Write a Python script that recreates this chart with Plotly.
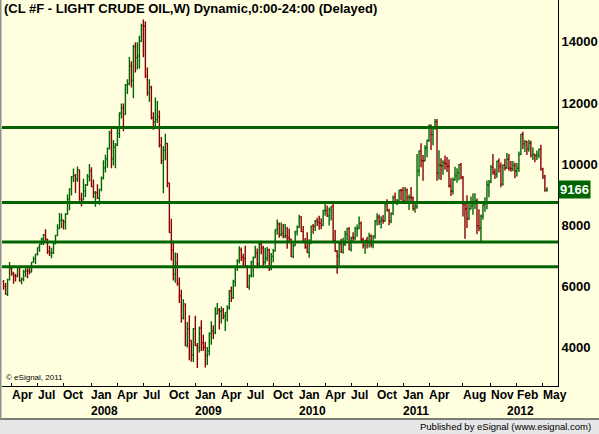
import pandas as pd
import plotly.graph_objects as go

FONT = "Liberation Sans, Arial, sans-serif"
GREEN = "#006400"
RED = "#8b0000"
BG = "#ffffe0"

# weekly bars (Monday of each week), prices in dollars per barrel
first_week = "2007-03-05"

opens = [
    # 2007
    61.6, 60.1, 57.6, 62.3, 65.9, 64.3, 63.6, 63.4, 66.5, 61.9, 62.4, 64.9, 65.2, 65.1, 64.8,
    68.0, 69.1, 70.7, 72.8, 73.9, 75.6, 77.0, 75.5, 71.5, 71.0, 71.1, 74.0, 76.7, 79.1, 81.6,
    81.7, 81.2, 83.7, 88.6, 91.9, 95.9, 96.3, 95.1, 98.2, 88.7, 88.3, 91.3, 93.3, 96.0,
    # 2008
    97.9, 92.7, 90.6, 90.7, 88.9, 91.8, 95.5, 98.8, 101.8, 105.2, 110.2, 101.8, 105.6, 106.2,
    110.1, 116.7, 118.5, 116.3, 125.9, 126.3, 132.2, 127.4, 138.5, 134.9, 135.4, 140.2, 145.3,
    145.1, 128.9, 123.3, 125.1, 115.2, 113.8, 114.6, 115.5, 106.2, 101.2, 104.6, 106.9, 93.9,
    77.7, 71.9, 64.2, 67.8, 61.0, 57.0, 49.9, 54.4, 40.8, 46.3, 42.4, 37.7,
    # 2009
    46.3, 40.8, 40.0, 46.5, 41.7, 40.2, 37.5, 38.9, 44.8, 45.5, 44.9, 51.1, 52.4, 52.0, 52.2,
    50.3, 51.6, 53.2, 58.6, 56.3, 61.7, 66.3, 68.4, 72.0, 69.6, 69.2, 66.7, 59.9, 63.6, 68.1,
    69.5, 70.9, 67.5, 73.9, 72.7, 68.0, 69.3, 72.0, 66.0, 69.9, 71.8, 78.7, 80.5, 77.0, 77.4,
    76.4, 76.7, 76.1, 75.5, 69.9, 73.4, 78.0,
    # 2010
    79.4, 82.8, 78.0, 74.5, 72.9, 71.2, 74.1, 79.8, 79.7, 81.5, 81.2, 80.7, 80.0, 84.9, 84.9,
    83.2, 85.1, 86.2, 75.1, 71.6, 70.0, 74.0, 71.5, 73.8, 77.2, 79.0, 72.1, 76.1, 76.0, 78.9,
    79.0, 80.7, 75.4, 73.5, 75.2, 74.6, 76.5, 73.7, 76.5, 81.6, 82.7, 81.3, 81.7, 81.4, 87.0,
    84.9, 81.5, 83.8, 89.2, 87.8, 88.0, 91.5,
    # 2011
    91.4, 88.0, 91.5, 89.1, 89.3, 89.0, 85.6, 86.2, 97.9, 104.4, 101.2, 101.1, 105.4, 107.9,
    112.8, 109.7, 112.3, 113.9, 97.2, 99.7, 99.5, 100.6, 100.2, 99.3, 93.0, 91.2, 95.0, 96.2,
    97.2, 99.9, 95.7, 86.9, 85.4, 82.3, 85.4, 86.5, 87.2, 88.0, 79.9, 79.2, 83.0, 86.8, 87.4,
    93.3, 94.3, 99.0, 97.4, 96.8, 101.0, 99.4, 93.5, 99.7,
    # 2012
    98.8, 101.6, 98.7, 98.5, 99.6, 97.8, 98.7, 103.2, 109.8, 106.7, 107.4, 105.1, 106.9, 103.0,
    103.3, 102.8, 103.1, 104.9, 98.5, 96.1, 91.5,
]

highs = [
    # 2007
    62.2, 61.2, 62.6, 68.1, 66.7, 64.9, 64.2, 66.8, 66.8, 63.0, 65.5, 66.0, 66.0, 66.7, 68.1,
    69.9, 70.7, 72.8, 74.0, 76.0, 77.2, 78.8, 75.7, 73.4, 72.7, 74.6, 77.0, 80.4, 84.1, 83.9,
    82.0, 84.1, 90.1, 92.2, 96.2, 98.6, 96.8, 99.3, 98.2, 90.7, 95.3, 93.6, 96.8, 100.1,
    # 2008
    99.0, 95.0, 91.3, 93.5, 92.0, 96.0, 101.3, 103.1, 105.5, 111.0, 111.8, 107.9, 107.0, 112.2,
    117.0, 119.9, 119.9, 126.2, 127.8, 135.1, 133.7, 139.1, 139.9, 139.9, 142.0, 145.9, 147.3,
    146.7, 131.6, 127.8, 125.7, 117.0, 121.8, 120.7, 117.6, 108.9, 106.0, 110.0, 107.0, 94.0,
    82.2, 75.0, 71.2, 71.0, 63.0, 59.0, 55.9, 54.5, 48.5, 50.7, 42.5, 46.5,
    # 2009
    50.5, 41.6, 47.0, 49.0, 44.3, 42.0, 40.3, 45.0, 48.7, 47.4, 53.3, 54.7, 53.0, 53.5, 53.0,
    51.6, 53.9, 58.9, 60.1, 62.3, 66.5, 69.0, 73.2, 72.8, 70.8, 73.4, 67.0, 64.0, 68.5, 69.9,
    73.4, 72.5, 74.3, 75.0, 73.4, 72.7, 73.0, 72.4, 71.0, 72.3, 78.7, 82.0, 81.0, 81.0, 80.5,
    80.5, 79.5, 79.0, 75.7, 74.3, 78.3, 80.0,
    # 2010
    83.5, 83.0, 79.8, 75.9, 77.8, 75.5, 80.0, 80.5, 81.8, 82.5, 83.2, 82.4, 85.1, 87.1, 86.5,
    85.9, 86.4, 87.2, 78.5, 72.0, 74.7, 75.7, 76.0, 78.3, 79.3, 79.4, 76.3, 77.8, 79.6, 80.3,
    82.9, 81.3, 76.0, 75.3, 76.3, 77.6, 77.1, 76.8, 81.8, 84.0, 83.6, 83.0, 83.4, 87.2, 88.6,
    85.5, 84.3, 89.8, 90.8, 88.7, 91.6, 92.0,
    # 2011
    92.6, 92.6, 92.1, 90.1, 92.6, 89.5, 87.1, 103.4, 104.5, 106.9, 103.0, 106.2, 108.1, 113.0,
    113.0, 112.5, 114.8, 114.8, 104.6, 102.0, 101.3, 102.9, 102.4, 101.6, 95.5, 95.7, 99.2,
    98.7, 100.1, 100.4, 96.2, 87.0, 89.9, 88.0, 89.5, 90.5, 90.5, 88.8, 85.3, 83.6, 86.9, 89.2,
    94.7, 94.9, 99.8, 103.4, 98.6, 101.2, 101.9, 100.6, 99.9, 101.8,
    # 2012
    103.7, 103.4, 101.1, 101.1, 100.5, 100.4, 104.2, 109.9, 110.6, 107.9, 107.7, 108.0, 107.7,
    105.5, 103.4, 104.5, 105.2, 106.4, 98.9, 96.6, 92.5,
]

lows = [
    # 2007
    59.0, 57.4, 57.0, 62.0, 63.6, 61.0, 61.7, 63.1, 61.6, 60.8, 61.8, 63.2, 62.8, 64.1, 64.6,
    67.8, 67.4, 70.2, 71.4, 73.6, 73.6, 75.0, 70.7, 70.0, 69.3, 70.7, 73.9, 76.6, 78.8, 79.2,
    78.7, 78.7, 83.5, 85.0, 89.8, 94.2, 90.6, 94.3, 88.1, 86.2, 88.3, 89.3, 92.9, 94.4,
    # 2008
    92.5, 89.0, 86.1, 88.7, 86.8, 91.2, 95.0, 97.3, 98.9, 104.8, 98.7, 99.6, 98.7, 106.0,
    108.6, 115.0, 110.8, 116.2, 123.0, 125.8, 125.1, 121.6, 130.0, 131.0, 131.3, 140.0, 135.0,
    128.2, 122.4, 120.4, 114.6, 111.3, 111.7, 113.5, 105.5, 100.1, 90.5, 101.3, 92.5, 77.6,
    68.6, 62.0, 61.3, 60.3, 54.7, 48.2, 49.3, 40.5, 40.1, 36.0, 35.5, 35.4,
    # 2009
    40.5, 33.4, 38.5, 39.0, 39.1, 33.6, 34.4, 37.5, 41.0, 42.9, 44.5, 51.0, 46.0, 48.0, 49.4,
    45.5, 48.6, 52.5, 55.0, 56.0, 60.0, 65.1, 67.6, 68.4, 66.1, 66.1, 59.6, 59.0, 63.0, 63.1,
    69.3, 66.0, 66.7, 70.6, 66.7, 67.2, 68.3, 65.1, 65.4, 68.0, 71.4, 77.0, 76.0, 76.5, 75.8,
    75.8, 72.4, 74.3, 69.6, 69.3, 73.3, 76.7,
    # 2010
    79.2, 77.9, 74.3, 72.4, 71.0, 69.5, 74.0, 77.3, 78.2, 79.8, 78.6, 78.8, 79.9, 83.2, 82.8,
    80.0, 81.6, 74.8, 71.4, 64.2, 67.0, 71.0, 70.8, 73.3, 75.2, 71.9, 71.5, 74.3, 75.3, 76.3,
    78.8, 74.9, 72.5, 70.8, 72.5, 72.8, 72.8, 72.6, 75.7, 80.0, 80.2, 79.0, 80.6, 81.3, 84.6,
    80.1, 80.7, 83.4, 87.3, 86.6, 87.9, 88.2,
    # 2011
    87.0, 87.5, 87.5, 85.1, 88.0, 84.8, 84.2, 85.5, 96.1, 99.0, 94.6, 101.0, 102.3, 107.3,
    104.7, 106.2, 111.3, 94.6, 95.0, 94.9, 96.6, 98.2, 97.5, 92.4, 89.6, 90.1, 94.6, 94.0,
    94.8, 95.1, 82.9, 75.7, 79.2, 81.8, 85.3, 83.5, 85.4, 77.1, 78.1, 74.9, 81.9, 84.5, 85.3,
    89.2, 93.8, 96.6, 95.2, 95.6, 97.3, 92.5, 93.1, 98.0,
    # 2012
    98.5, 97.9, 97.6, 97.7, 95.4, 96.0, 97.5, 103.0, 105.0, 104.0, 103.0, 104.1, 102.2, 101.4,
    100.7, 101.4, 102.0, 97.9, 95.2, 91.0, 91.0,
]

closes = [
    # 2007
    60.1, 57.6, 62.3, 65.9, 64.3, 63.6, 63.4, 66.5, 61.9, 62.4, 64.9, 65.2, 65.1, 64.8, 68.0,
    69.1, 70.7, 72.8, 73.9, 75.6, 77.0, 75.5, 71.5, 71.0, 71.1, 74.0, 76.7, 79.1, 81.6, 81.7,
    81.2, 83.7, 88.6, 91.9, 95.9, 96.3, 95.1, 98.2, 88.7, 88.3, 91.3, 93.3, 96.0, 97.9,
    # 2008
    92.7, 90.6, 90.7, 88.9, 91.8, 95.5, 98.8, 101.8, 105.2, 110.2, 101.8, 105.6, 106.2, 110.1,
    116.7, 118.5, 116.3, 125.9, 126.3, 132.2, 127.4, 138.5, 134.9, 135.4, 140.2, 145.3, 145.1,
    128.9, 123.3, 125.1, 115.2, 113.8, 114.6, 115.5, 106.2, 101.2, 104.6, 106.9, 93.9, 77.7,
    71.9, 64.2, 67.8, 61.0, 57.0, 49.9, 54.4, 40.8, 46.3, 42.4, 37.7, 46.3,
    # 2009
    40.8, 36.5, 46.5, 41.7, 40.2, 37.5, 38.9, 44.8, 45.5, 44.9, 51.1, 52.4, 52.0, 52.2, 50.3,
    51.6, 53.2, 58.6, 56.3, 61.7, 66.3, 68.4, 72.0, 69.6, 69.2, 66.7, 59.9, 63.6, 68.1, 69.5,
    70.9, 67.5, 73.9, 72.7, 68.0, 69.3, 72.0, 66.0, 69.9, 71.8, 78.7, 80.5, 77.0, 77.4, 76.4,
    76.7, 76.1, 75.5, 69.9, 73.4, 78.0, 79.4,
    # 2010
    82.8, 78.0, 74.5, 72.9, 71.2, 74.1, 79.8, 79.7, 81.5, 81.2, 80.7, 80.0, 84.9, 84.9, 83.2,
    85.1, 86.2, 75.1, 71.6, 70.0, 74.0, 71.5, 73.8, 77.2, 79.0, 72.1, 76.1, 76.0, 78.9, 79.0,
    80.7, 75.4, 73.5, 75.2, 74.6, 76.5, 73.7, 76.5, 81.6, 82.7, 81.3, 81.7, 81.4, 87.0, 84.9,
    81.5, 83.8, 89.2, 87.8, 88.0, 91.5, 91.4,
    # 2011
    88.0, 91.5, 89.1, 89.3, 89.0, 85.6, 86.2, 97.9, 104.4, 101.2, 101.1, 105.4, 107.9, 112.8,
    109.7, 112.3, 113.9, 97.2, 99.7, 99.5, 100.6, 100.2, 99.3, 93.0, 91.2, 95.0, 96.2, 97.2,
    99.9, 95.7, 86.9, 85.4, 82.3, 85.4, 86.5, 87.2, 88.0, 79.9, 79.2, 83.0, 86.8, 87.4, 93.3,
    94.3, 99.0, 97.4, 96.8, 101.0, 99.4, 93.5, 99.7, 98.8,
    # 2012
    101.6, 98.7, 98.5, 99.6, 97.8, 98.7, 103.2, 109.8, 106.7, 107.4, 105.1, 106.9, 103.0, 103.3,
    102.8, 103.1, 104.9, 98.5, 96.1, 91.5, 91.66,
]

# horizontal support / resistance lines and last quote (chart units = cents)
levels = [11200, 8750, 7460, 6650]
last_price = 9166
price_ticks = [4000, 6000, 8000, 10000, 12000, 14000]

month_dates = ["2007-04-02", "2007-07-02", "2007-10-01", "2008-01-07", "2008-04-07",
               "2008-07-07", "2008-10-06", "2009-01-05", "2009-04-06", "2009-07-06",
               "2009-10-05", "2010-01-04", "2010-04-05", "2010-07-05", "2010-10-04",
               "2011-01-03", "2011-04-04", "2011-08-01", "2011-11-07", "2012-02-06",
               "2012-05-07"]
month_labels = ["Apr", "Jul", "Oct", "Jan", "Apr", "Jul", "Oct", "Jan", "Apr", "Jul", "Oct",
                "Jan", "Apr", "Jul", "Oct", "Jan", "Apr", "Aug", "Nov", "Feb", "May"]
year_dates = ["2008-01-07", "2009-01-05", "2010-01-04", "2011-01-03", "2012-01-02"]
year_labels = ["2008", "2009", "2010", "2011", "2012"]

weeks = pd.date_range(first_week, periods=len(closes), freq="7D")
scale = 100  # eSignal shows the quote in cents

fig = go.Figure(go.Ohlc(
    x=weeks,
    open=[v * scale for v in opens],
    high=[v * scale for v in highs],
    low=[v * scale for v in lows],
    close=[v * scale for v in closes],
    increasing=dict(line=dict(color=GREEN, width=1.4)),
    decreasing=dict(line=dict(color=RED, width=1.4)),
    tickwidth=0.5,
    hoverinfo="skip",
))

# support / resistance lines across the whole plot
for lvl in levels:
    fig.add_shape(type="line", xref="paper", x0=0, x1=1, yref="y", y0=lvl, y1=lvl,
                  line=dict(color=GREEN, width=3))

# frame pieces outside the plot area (paper units, plot is 556 x 386 px)
fig.add_shape(type="rect", xref="paper", yref="paper", x0=-0.01, x1=1.08, y0=-0.1244, y1=-0.0868,
              fillcolor="#e6e6e6", line=dict(width=0), layer="below")
fig.add_shape(type="line", xref="paper", yref="paper", x0=-0.01, x1=1.08, y0=-0.0855, y1=-0.0855,
              line=dict(color="#000000", width=1))
fig.add_shape(type="line", xref="paper", yref="paper", x0=-0.0027, x1=-0.0027, y0=-0.0855, y1=1,
              line=dict(color="#909090", width=2))

# month / year labels start at their tick, as in eSignal
for d, lab in zip(month_dates, month_labels):
    fig.add_annotation(x=d, xref="x", y=-0.0233, yref="paper", text=lab, showarrow=False,
                       xanchor="left", yanchor="middle", xshift=-2,
                       font=dict(family=FONT, size=12, color="#000000", weight="bold"))
for d, lab in zip(year_dates, year_labels):
    fig.add_annotation(x=d, xref="x", y=-0.0648, yref="paper", text=lab, showarrow=False,
                       xanchor="left", yanchor="middle", xshift=-2,
                       font=dict(family=FONT, size=12, color="#000000", weight="bold"))

fig.add_annotation(x=0, y=1, xref="paper", yref="paper", xanchor="left", yanchor="top",
                   text="(CL #F - LIGHT CRUDE OIL,W) Dynamic,0:00-24:00 (Delayed)",
                   showarrow=False, xshift=0, yshift=1,
                   font=dict(family=FONT, size=13, color="#000000", weight="bold"))
fig.add_annotation(x=0, y=0, xref="paper", yref="paper", xanchor="left", yanchor="bottom",
                   text="© eSignal, 2011", showarrow=False, xshift=2, yshift=2,
                   font=dict(family=FONT, size=8, color="#000000"))
fig.add_annotation(x=1, y=last_price, xref="paper", yref="y", xanchor="left", yanchor="middle",
                   text=str(last_price), showarrow=False, xshift=0, bgcolor=GREEN, borderpad=1,
                   font=dict(family=FONT, size=13, color="#ffffff", weight="bold"))
fig.add_annotation(x=1.0624, y=-0.1062, xref="paper", yref="paper", xanchor="right",
                   yanchor="middle", text="Published by eSignal (www.esignal.com)",
                   showarrow=False, font=dict(family=FONT, size=9.5, color="#000000"))

fig.update_layout(
    width=599, height=434,
    margin=dict(l=2, r=41, t=0, b=48),
    paper_bgcolor=BG, plot_bgcolor=BG,
    showlegend=False,
    font=dict(family=FONT, color="#000000"),
    xaxis=dict(type="date", range=["2007-02-27 12:00", "2012-06-29"], rangeslider=dict(visible=False),
               showgrid=False, zeroline=False, showline=True, linecolor="#000000", linewidth=1,
               ticks="inside", ticklen=3, tickcolor="#000000", tickvals=month_dates,
               showticklabels=False),
    yaxis=dict(side="right", range=[2755, 15369], tickvals=price_ticks,
               ticktext=[str(t) for t in price_ticks], showgrid=False, zeroline=False,
               showline=True, linecolor="#000000", linewidth=1, ticks="",
               tickfont=dict(family=FONT, size=13, color="#000000", weight="bold")),
)

# the page body has a default 8px margin; drop it so the chart fills the window
fig.write_html("out.html", config={"displayModeBar": False},
               post_script="document.body.style.margin = '0px';")
